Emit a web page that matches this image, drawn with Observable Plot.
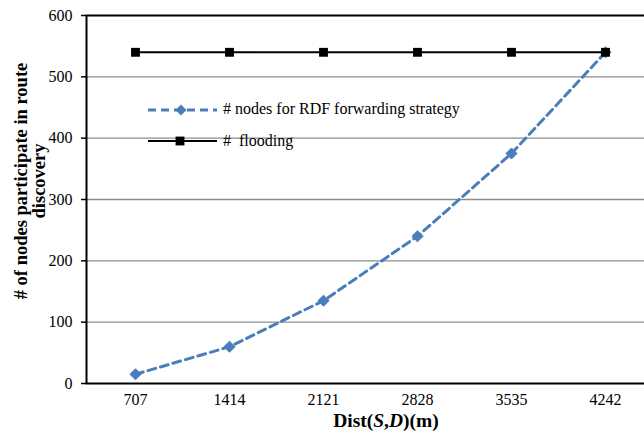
<!DOCTYPE html>
<html>
<head>
<meta charset="utf-8">
<script src="https://cdn.jsdelivr.net/npm/d3@7"></script>
<script src="https://cdn.jsdelivr.net/npm/@observablehq/plot@0.6"></script>
<style>
  html, body { margin: 0; padding: 0; background: #fff; }
  svg { display: block; }
</style>
</head>
<body>
<div id="chart"></div>
<script>
const distances = ["707", "1414", "2121", "2828", "3535", "4242"];
const rdfNodes = [15, 60, 135, 240, 375, 540];
const floodingNodes = [540, 540, 540, 540, 540, 540];
const yTicks = [0, 100, 200, 300, 400, 500, 600];
const gridTicks = [100, 200, 300, 400, 500];
const rdfLabel = "# nodes for RDF forwarding strategy";
const floodLabel = "#  flooding";

const blue = "#4A7EBB";
const serif = "'Liberation Serif', 'Times New Roman', serif";

const rdf = distances.map((d, i) => ({d, v: rdfNodes[i]}));
const flood = distances.map((d, i) => ({d, v: floodingNodes[i]}));

const chart = Plot.plot({
  width: 644,
  height: 431,
  marginLeft: 86,
  marginRight: -9,
  marginTop: 15,
  marginBottom: 48,
  style: {fontFamily: serif, fontSize: "16px", color: "#000", background: "#fff"},
  x: {type: "point", domain: distances, padding: 0.5, label: null},
  y: {domain: [0, 600], label: null},
  marks: [
    Plot.ruleY(gridTicks, {stroke: "#8c8c8c", strokeWidth: 1.4}),
    Plot.frame({stroke: "#000", strokeWidth: 2}),
    Plot.axisY({ticks: yTicks, tickSize: 5, tickPadding: 9, fontSize: 16, label: null, stroke: "#000", strokeWidth: 1.5}),
    Plot.axisX({tickSize: 0, tickPadding: 10, fontSize: 16, label: null}),
    Plot.line(rdf, {x: "d", y: "v", stroke: blue, strokeWidth: 3, strokeDasharray: "8,5"}),
    Plot.dot(rdf, {x: "d", y: "v", symbol: "diamond2", r: 5, fill: blue, stroke: blue, strokeWidth: 1}),
    Plot.line(flood, {x: "d", y: "v", stroke: "#000", strokeWidth: 2}),
    Plot.dot(flood, {x: "d", y: "v", symbol: "square", r: 5, fill: "#000"})
  ]
});

document.getElementById("chart").appendChild(chart);

const svg = d3.select(chart);

// Legend
const lg = svg.append("g").attr("font-family", serif).attr("font-size", 16).attr("fill", "#000")
  .attr("text-anchor", "start");
lg.append("line").attr("x1", 148).attr("x2", 217).attr("y1", 110).attr("y2", 110)
  .attr("stroke", blue).attr("stroke-width", 3).attr("stroke-dasharray", "8,5");
lg.append("path").attr("d", d3.symbol(d3.symbolDiamond2, Math.PI * 25)()).attr("transform", "translate(181,110)")
  .attr("fill", blue);
lg.append("text").attr("x", 223).attr("y", 114).text(rdfLabel);
lg.append("line").attr("x1", 148).attr("x2", 217).attr("y1", 141).attr("y2", 141)
  .attr("stroke", "#000").attr("stroke-width", 2);
lg.append("path").attr("d", d3.symbol(d3.symbolSquare, Math.PI * 25)()).attr("transform", "translate(180,141)")
  .attr("fill", "#000");
lg.append("text").attr("x", 223).attr("y", 146).attr("xml:space", "preserve").style("white-space", "pre").text(floodLabel);

// Y axis title
const yt = svg.append("text").attr("font-family", serif).attr("font-size", 18.5).attr("font-weight", "bold")
  .attr("text-anchor", "middle").attr("fill", "#000").attr("transform", "translate(27,181) rotate(-90)");
yt.append("tspan").attr("x", 0).attr("y", 0).text("# of nodes participate in route");
yt.append("tspan").attr("x", 0).attr("y", 18).text("discovery");

// X axis title
const xt = svg.append("text").attr("font-family", serif).attr("font-size", 19.5).attr("font-weight", "bold")
  .attr("text-anchor", "middle").attr("fill", "#000").attr("x", 386).attr("y", 427);
xt.append("tspan").text("Dist(");
xt.append("tspan").attr("font-style", "italic").text("S");
xt.append("tspan").text(",");
xt.append("tspan").attr("font-style", "italic").text("D");
xt.append("tspan").text(")(m)");
</script>
</body>
</html>
